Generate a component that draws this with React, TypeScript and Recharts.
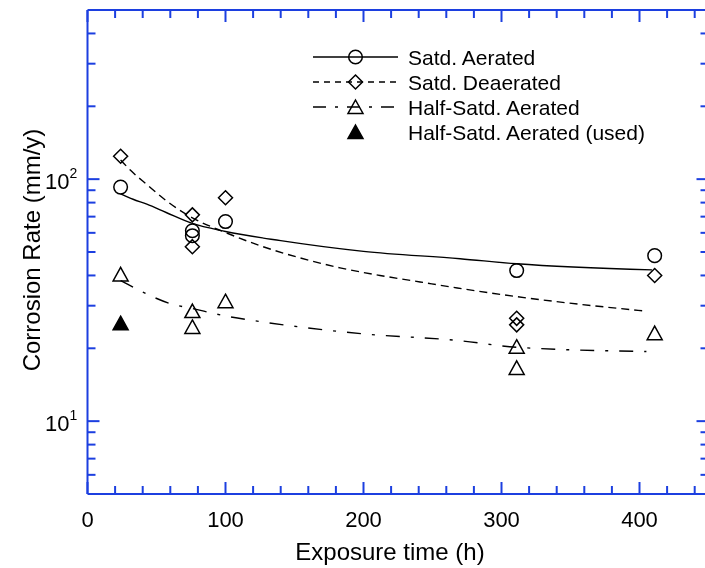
import React from 'react'
import {
  ComposedChart,
  Line,
  Scatter,
  XAxis,
  YAxis,
} from 'recharts'

// measured points (h, mm/y)
const satdAerated = [
  { h: 24, rate: 92.7 }, { h: 76, rate: 61.2 }, { h: 76, rate: 58.4 },
  { h: 100, rate: 66.8 }, { h: 311, rate: 41.9 }, { h: 411, rate: 48.3 },
]
const satdDeaerated = [
  { h: 24, rate: 124.3 }, { h: 76, rate: 71.2 }, { h: 76, rate: 52.6 },
  { h: 100, rate: 83.8 }, { h: 311, rate: 26.6 }, { h: 311, rate: 25.0 },
  { h: 411, rate: 40.0 },
]
const halfAerated = [
  { h: 24, rate: 40.4 }, { h: 76, rate: 28.5 }, { h: 76, rate: 24.5 },
  { h: 100, rate: 31.3 }, { h: 311, rate: 20.3 }, { h: 311, rate: 16.6 },
  { h: 411, rate: 23.1 },
]
const halfAeratedUsed = [{ h: 24, rate: 25.4 }]

// fitted curves
const aeratedFit = [
  { h: 24, rate: 87 }, { h: 33, rate: 82.6 }, { h: 43, rate: 78.8 },
  { h: 57, rate: 72.8 }, { h: 76, rate: 65.6 }, { h: 100, rate: 60.8 },
  { h: 140, rate: 55.7 }, { h: 200, rate: 50.3 }, { h: 270, rate: 46.9 },
  { h: 311, rate: 44.7 }, { h: 409, rate: 42.2 },
]
const deaeratedFit = [
  { h: 24, rate: 120 }, { h: 31, rate: 109 }, { h: 43, rate: 95 },
  { h: 57, rate: 81.5 }, { h: 76, rate: 69.2 }, { h: 100, rate: 60.2 },
  { h: 125, rate: 53.1 }, { h: 154, rate: 47.3 }, { h: 183, rate: 43 },
  { h: 212, rate: 40 }, { h: 241, rate: 37.6 }, { h: 268, rate: 35.5 },
  { h: 311, rate: 32.7 }, { h: 404, rate: 28.5 },
]
const halfFit = [
  { h: 24, rate: 38.1 }, { h: 33, rate: 35.8 }, { h: 44, rate: 33.3 },
  { h: 60, rate: 30.6 }, { h: 76, rate: 29.2 }, { h: 100, rate: 27.2 },
  { h: 125, rate: 25.8 }, { h: 198, rate: 23.0 }, { h: 270, rate: 21.5 },
  { h: 311, rate: 20.2 }, { h: 405, rate: 19.4 },
]

const xTicks = [0, 20, 40, 60, 80, 100, 120, 140, 160, 180, 200, 220, 240, 260, 280, 300, 320, 340, 360, 380, 400, 420, 440]
const xLabels = [0, 100, 200, 300, 400]
const yTicks = [6, 7, 8, 9, 10, 20, 30, 40, 50, 60, 70, 80, 90, 100, 200, 300, 400]
const yLabels = [10, 100]

const BLUE = '#1c3fe0'
const FONT = '"Liberation Sans", Arial, sans-serif'

const Circle = ({ cx, cy }: any) => (
  <circle cx={cx} cy={cy} r={6.8} fill="none" stroke="#000" strokeWidth={1.5} />
)
const Diamond = ({ cx, cy }: any) => (
  <path d={`M${cx},${cy - 7} L${cx + 7},${cy} L${cx},${cy + 7} L${cx - 7},${cy} Z`}
    fill="none" stroke="#000" strokeWidth={1.5} />
)
const Tri = ({ cx, cy, fill = 'none' }: any) => (
  <path d={`M${cx},${cy - 7} L${cx + 7.5},${cy + 6.5} L${cx - 7.5},${cy + 6.5} Z`}
    fill={fill} stroke="#000" strokeWidth={1.5} strokeLinejoin="miter" />
)
const FilledTri = (p: any) => <Tri {...p} fill="#000" />

const isMajorX = (v: number) => v % 100 === 0
const isMajorY = (v: number) => yLabels.includes(v)

const BottomTick = ({ x, y, payload }: any) => {
  const v = payload.value
  return (
    <g>
      <line x1={x} x2={x} y1={y} y2={y - (isMajorX(v) ? 12 : 8)} stroke={BLUE} strokeWidth={2} />
      {xLabels.includes(v) && (
        <text x={x} y={y + 33} textAnchor="middle" fontSize={22} fontFamily={FONT} fill="#000">{v}</text>
      )}
    </g>
  )
}
const TopTick = ({ x, y, payload }: any) => (
  <line x1={x} x2={x} y1={y} y2={y + (isMajorX(payload.value) ? 12 : 8)} stroke={BLUE} strokeWidth={2} />
)
const LeftTick = ({ x, y, payload }: any) => {
  const v = payload.value
  return (
    <g>
      <line x1={x} x2={x + (isMajorY(v) ? 12 : 8)} y1={y} y2={y} stroke={BLUE} strokeWidth={2} />
      {isMajorY(v) && (
        <text x={x - 42.5} y={y + 10} fontSize={22} fontFamily={FONT} fill="#000">
          10<tspan fontSize={14} dy={-11}>{v === 10 ? 1 : 2}</tspan>
        </text>
      )}
    </g>
  )
}
const RightTick = ({ x, y, payload }: any) => (
  <line x1={x} x2={x - (isMajorY(payload.value) ? 12 : 8)} y1={y} y2={y} stroke={BLUE} strokeWidth={2} />
)

const legendRows = [
  { label: 'Satd. Aerated', dash: undefined, mark: Circle },
  { label: 'Satd. Deaerated', dash: '6 5', mark: Diamond },
  { label: 'Half-Satd. Aerated', dash: '13 9 3 9', mark: Tri },
  { label: 'Half-Satd. Aerated (used)', dash: null, mark: FilledTri },
]

function Legend() {
  return (
    <g>
      {legendRows.map((r, i) => {
        const cy = 49 + i * 25
        const Mark = r.mark
        return (
          <g key={r.label}>
            {r.dash !== null && (
              <line x1={305} x2={390} y1={cy} y2={cy} stroke="#000" strokeWidth={1.3} strokeDasharray={r.dash} />
            )}
            <Mark cx={347.5} cy={cy} />
            <text x={400} y={cy + 8} fontSize={21} fontFamily={FONT} fill="#000">{r.label}</text>
          </g>
        )
      })}
    </g>
  )
}

export default function App() {
  return (
    <div style={{ position: 'fixed', left: 8, top: 8, width: 697, height: 560, overflow: 'hidden' }}>
      <ComposedChart width={720} height={560} margin={{ top: 0, right: 0, bottom: 0, left: 0 }}>
        <XAxis xAxisId="b" dataKey="h" type="number" domain={[0, 450]} allowDataOverflow
          ticks={xTicks} interval={0} tickSize={0} tickMargin={0} tick={BottomTick}
          axisLine={{ stroke: BLUE, strokeWidth: 2 }} height={74} />
        <XAxis xAxisId="t" orientation="top" dataKey="h" type="number" domain={[0, 450]} allowDataOverflow
          ticks={xTicks} interval={0} tickSize={0} tickMargin={0} tick={TopTick}
          axisLine={{ stroke: BLUE, strokeWidth: 2 }} height={2} />
        <YAxis yAxisId="l" dataKey="rate" type="number" scale="log" domain={[5, 500]} allowDataOverflow
          ticks={yTicks} interval={0} tickSize={0} tickMargin={0} tick={LeftTick}
          axisLine={{ stroke: BLUE, strokeWidth: 2 }} width={79.5} />
        <YAxis yAxisId="r" orientation="right" dataKey="rate" type="number" scale="log" domain={[5, 500]} allowDataOverflow
          ticks={yTicks} interval={0} tickSize={0} tickMargin={0} tick={RightTick}
          axisLine={{ stroke: BLUE, strokeWidth: 2 }} width={19.5} />

        <Line xAxisId="b" yAxisId="l" data={aeratedFit} dataKey="rate" type="monotone"
          stroke="#000" strokeWidth={1.4} dot={false} activeDot={false} isAnimationActive={false} />
        <Line xAxisId="b" yAxisId="l" data={deaeratedFit} dataKey="rate" type="monotone"
          stroke="#000" strokeWidth={1.4} strokeDasharray="8 5" dot={false} activeDot={false} isAnimationActive={false} />
        <Line xAxisId="b" yAxisId="l" data={halfFit} dataKey="rate" type="monotone"
          stroke="#000" strokeWidth={1.4} strokeDasharray="14 11 3 11" dot={false} activeDot={false} isAnimationActive={false} />

        <Scatter xAxisId="b" yAxisId="l" data={satdAerated} dataKey="rate" shape={Circle} isAnimationActive={false} />
        <Scatter xAxisId="b" yAxisId="l" data={satdDeaerated} dataKey="rate" shape={Diamond} isAnimationActive={false} />
        <Scatter xAxisId="b" yAxisId="l" data={halfAerated} dataKey="rate" shape={Tri} isAnimationActive={false} />
        <Scatter xAxisId="b" yAxisId="l" data={halfAeratedUsed} dataKey="rate" shape={FilledTri} isAnimationActive={false} />

        <Legend />
        <text x={382} y={552} textAnchor="middle" fontSize={24} fontFamily={FONT} fill="#000">Exposure time (h)</text>
        <text transform="translate(23,242) rotate(-90)" textAnchor="middle" dominantBaseline="central"
          fontSize={24} fontFamily={FONT} fill="#000">Corrosion Rate (mm/y)</text>
      </ComposedChart>
    </div>
  )
}
